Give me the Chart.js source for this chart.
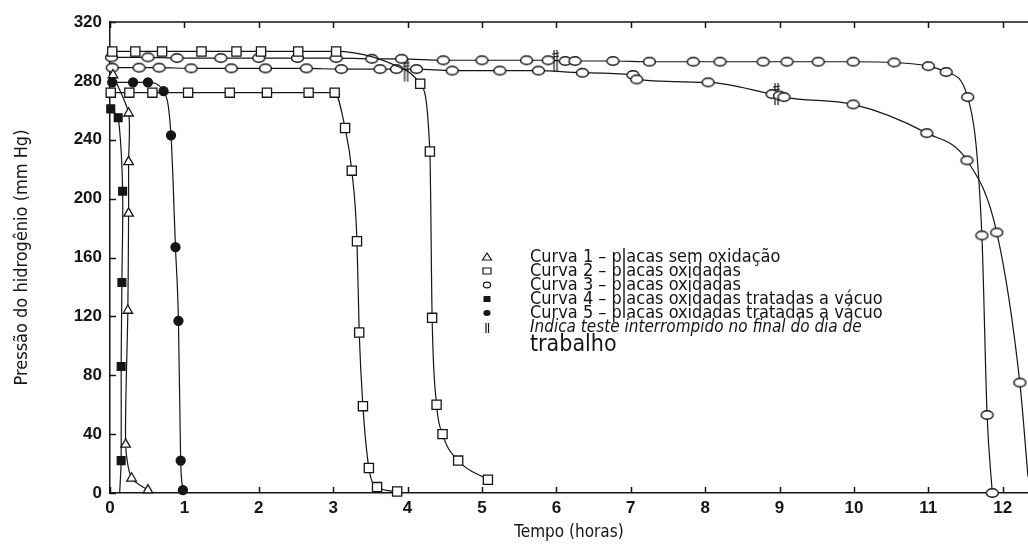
<!DOCTYPE html>
<html>
<head>
<meta charset="utf-8">
<script src="https://cdn.jsdelivr.net/npm/chart.js@4.4.1/dist/chart.umd.min.js"></script>
<style>
  html, body { margin: 0; padding: 0; background: #fff; }
  #wrap { width: 1028px; height: 546px; position: relative; }
</style>
</head>
<body>
<div id="wrap"><canvas id="pressureChart"></canvas></div>
<script>
// axis ticks
const xTickValues = [0, 1, 2, 3, 4, 5, 6, 7, 8, 9, 10, 11, 12];
const yTickValues = [0, 40, 80, 120, 160, 200, 240, 280, 320];

// curve 1 - triangles
const curve1Time = [0.04, 0.25, 0.25, 0.25, 0.24, 0.21, 0.29, 0.51];
const curve1Pressure = [284, 258, 225, 190, 124, 33, 10, 2];

// curve 2 - open squares (two runs)
const curve2aTime = [0.03, 0.34, 0.70, 1.23, 1.70, 2.03, 2.53, 3.04, 3.55, 3.95, 4.17, 4.30, 4.33, 4.39, 4.47, 4.68, 5.08];
const curve2aPressure = [300, 300, 300, 300, 300, 300, 300, 300, 296, 288, 278, 232, 119, 60, 40, 22, 9];
const curve2bTime = [0.01, 0.26, 0.57, 1.05, 1.61, 2.11, 2.67, 3.02, 3.16, 3.25, 3.32, 3.35, 3.40, 3.48, 3.59, 3.86];
const curve2bPressure = [272, 272, 272, 272, 272, 272, 272, 272, 248, 219, 171, 109, 59, 17, 4, 1];

// curve 3 - open circles (two runs)
const curve3aTime = [0.02, 0.51, 0.90, 1.49, 2.00, 2.52, 3.04, 3.52, 3.92, 4.48, 5.00, 5.60, 5.89, 6.12, 6.25, 6.76, 7.25, 7.84, 8.20, 8.78, 9.10, 9.52, 9.99, 10.54, 11.00, 11.24, 11.53, 11.72, 11.79, 11.86];
const curve3aPressure = [296, 296, 295.5, 295.5, 295.5, 295.5, 295.5, 295, 295, 294, 294, 294, 294, 293.5, 293.5, 293.5, 293, 293, 293, 293, 293, 293, 293, 292.5, 290, 286, 269, 175, 53, 0];
const curve3bTime = [0.03, 0.39, 0.66, 1.09, 1.63, 2.09, 2.64, 3.11, 3.63, 3.85, 4.12, 4.60, 5.24, 5.76, 6.35, 7.03, 7.08, 8.04, 8.90, 9.00, 9.06, 9.99, 10.98, 11.52, 11.92, 12.23, 12.34];
const curve3bPressure = [289, 289, 289, 288.5, 288.5, 288.5, 288.5, 288, 288, 288, 288, 287, 287, 287, 285.5, 284, 281, 279, 271, 270, 269, 264, 244.5, 226, 177, 75, 11];

// curve 4 - filled squares
const curve4Time = [0.01, 0.11, 0.17, 0.16, 0.15, 0.15, 0.13];
const curve4Pressure = [261, 255, 205, 143, 86, 22, 0];

// curve 5 - filled circles
const curve5Time = [0.03, 0.31, 0.51, 0.72, 0.82, 0.88, 0.92, 0.95, 0.98];
const curve5Pressure = [279, 279, 279, 273, 243, 167, 117, 22, 2];

// test interrupted at end of working day
const breakTime = [3.98, 5.99, 8.96];
const breakPressure = [287, 293.5, 271];

const legendLabels = [
  'Curva 1 – placas sem oxidação',
  'Curva 2 – placas oxidadas',
  'Curva 3 – placas oxidadas',
  'Curva 4 – placas oxidadas tratadas a vácuo',
  'Curva 5 – placas oxidadas tratadas a vácuo',
  'Indica teste interrompido no final do dia de',
  'trabalho'
];

const NARROW = "'DejaVu Sans Condensed', 'Liberation Sans Narrow', 'DejaVu Sans', sans-serif";
const INK = '#151515';

const toPoints = (t, p) => t.map((v, i) => ({ x: v, y: p[i] }));

function makeMark(w, h, draw) {
  const c = document.createElement('canvas');
  c.width = w;
  c.height = h;
  draw(c.getContext('2d'));
  return c;
}

const ellipseMark = makeMark(15, 12, g => {
  g.fillStyle = '#fff';
  g.strokeStyle = INK;
  g.lineWidth = 1.4;
  g.beginPath();
  g.ellipse(7.5, 6, 6, 4.3, 0, 0, Math.PI * 2);
  g.fill();
  g.stroke();
});

const breakMark = makeMark(9, 24, g => {
  g.strokeStyle = INK;
  g.lineWidth = 1.2;
  g.beginPath();
  g.moveTo(3, 1); g.lineTo(3, 23);
  g.moveTo(6, 1); g.lineTo(6, 23);
  g.moveTo(1, 5); g.lineTo(8, 4);
  g.moveTo(1, 8); g.lineTo(8, 7);
  g.stroke();
});

// radius per point, with some points carrying the line only
function radii(n, r, bare) {
  return Array.from({ length: n }, (_, i) => (bare.includes(i) ? 0 : r));
}

function lineSet(label, t, p, extra) {
  return Object.assign({
    label: label,
    data: toPoints(t, p),
    showLine: true,
    borderColor: INK,
    borderWidth: 1.2,
    pointBorderColor: INK,
    pointBorderWidth: 1.3,
    pointBackgroundColor: '#fff',
    clip: false
  }, extra);
}

const datasets = [
  lineSet('Curva 1', curve1Time, curve1Pressure, {
    pointStyle: 'triangle', pointRadius: 5.5, tension: 0.25
  }),
  lineSet('Curva 2a', curve2aTime, curve2aPressure, {
    pointStyle: 'rect', pointRadius: radii(curve2aTime.length, 6.5, [8, 9]),
    cubicInterpolationMode: 'monotone'
  }),
  lineSet('Curva 2b', curve2bTime, curve2bPressure, {
    pointStyle: 'rect', pointRadius: 6.5, cubicInterpolationMode: 'monotone'
  }),
  lineSet('Curva 3a', curve3aTime, curve3aPressure, {
    pointStyle: ellipseMark, cubicInterpolationMode: 'monotone'
  }),
  lineSet('Curva 3b', curve3bTime, curve3bPressure, {
    pointStyle: ellipseMark, pointRadius: radii(curve3bTime.length, 3, [curve3bTime.length - 1]),
    cubicInterpolationMode: 'monotone'
  }),
  lineSet('Curva 4', curve4Time, curve4Pressure, {
    pointStyle: 'rect', pointRadius: radii(curve4Time.length, 5.5, [curve4Time.length - 1]),
    pointBackgroundColor: INK, tension: 0.25
  }),
  lineSet('Curva 5', curve5Time, curve5Pressure, {
    pointStyle: 'circle', pointRadius: 4.5, pointBackgroundColor: INK,
    cubicInterpolationMode: 'monotone'
  }),
  {
    label: 'Interrompido',
    data: toPoints(breakTime, breakPressure),
    showLine: false,
    pointStyle: breakMark,
    pointRadius: 6,
    clip: false
  }
];

function legendSymbol(ctx, kind, x, y) {
  ctx.save();
  ctx.strokeStyle = INK;
  ctx.fillStyle = INK;
  ctx.lineWidth = 1.2;
  ctx.beginPath();
  if (kind === 0) {
    ctx.moveTo(x, y - 4); ctx.lineTo(x + 4.5, y + 3); ctx.lineTo(x - 4.5, y + 3); ctx.closePath(); ctx.stroke();
  } else if (kind === 1) {
    ctx.rect(x - 4, y - 3, 8, 6); ctx.stroke();
  } else if (kind === 2) {
    ctx.ellipse(x, y, 3.6, 2.8, 0, 0, Math.PI * 2); ctx.stroke();
  } else if (kind === 3) {
    ctx.rect(x - 3.5, y - 3, 7, 6); ctx.fill();
  } else if (kind === 4) {
    ctx.ellipse(x, y, 3.6, 3, 0, 0, Math.PI * 2); ctx.fill();
  } else {
    ctx.moveTo(x - 1, y - 5); ctx.lineTo(x - 1, y + 5);
    ctx.moveTo(x + 1.5, y - 5); ctx.lineTo(x + 1.5, y + 5);
    ctx.stroke();
  }
  ctx.restore();
}

const framePlugin = {
  id: 'frame',
  afterDraw(chart) {
    const { ctx, chartArea: a, scales } = chart;
    ctx.save();
    ctx.strokeStyle = INK;
    ctx.lineWidth = 1.5;
    ctx.beginPath();
    ctx.moveTo(a.left, a.top);
    ctx.lineTo(a.right, a.top);
    xTickValues.forEach(v => {
      const px = Math.round(scales.x.getPixelForValue(v)) + 0.5;
      ctx.moveTo(px, a.bottom); ctx.lineTo(px, a.bottom - 6);
      ctx.moveTo(px, a.top); ctx.lineTo(px, a.top + 6);
    });
    yTickValues.forEach(v => {
      const py = Math.round(scales.y.getPixelForValue(v)) + 0.5;
      ctx.moveTo(a.left, py); ctx.lineTo(a.left + 6, py);
    });
    ctx.stroke();

    // legend inside the plot
    const sx = a.left + 377;
    const tx = a.left + 420;
    const rows = [257, 271, 285, 299, 313, 328];
    ctx.fillStyle = INK;
    ctx.textBaseline = 'middle';
    rows.forEach((y, i) => {
      legendSymbol(ctx, i, sx, y);
      ctx.font = (i === 5 ? 'italic 17px ' : '18px ') + NARROW;
      ctx.fillText(legendLabels[i], tx, y);
    });
    ctx.font = '23px ' + NARROW;
    ctx.fillText(legendLabels[6], tx, 345);
    ctx.restore();
  }
};

new Chart(document.getElementById('pressureChart'), {
  type: 'scatter',
  data: { datasets: datasets },
  plugins: [framePlugin],
  options: {
    responsive: true,
    maintainAspectRatio: false,
    animation: false,
    layout: { autoPadding: false, padding: { top: 22, right: 0, left: 0, bottom: 0 } },
    plugins: { legend: { display: false }, tooltip: { enabled: false } },
    scales: {
      x: {
        type: 'linear',
        min: 0,
        max: 12.34,
        afterFit: s => { s.height = 53; s.paddingRight = 0; s.paddingLeft = 0; },
        afterBuildTicks: s => { s.ticks = xTickValues.map(v => ({ value: v })); },
        grid: { display: true, drawOnChartArea: false, drawTicks: false },
        border: { display: true, color: INK, width: 1.5 },
        ticks: {
          includeBounds: false,
          padding: 5,
          color: INK,
          font: { family: "'Liberation Sans', Arial, sans-serif", size: 17, weight: 'bold' }
        },
        title: {
          display: true,
          text: 'Tempo (horas)',
          color: INK,
          padding: { top: 0, bottom: 3 },
          font: { family: NARROW, size: 17 }
        }
      },
      y: {
        type: 'linear',
        min: 0,
        max: 320,
        afterFit: s => { s.width = 110; },
        afterBuildTicks: s => { s.ticks = yTickValues.map(v => ({ value: v })); },
        grid: { display: true, drawOnChartArea: false, drawTicks: false },
        border: { display: true, color: INK, width: 1.5 },
        ticks: {
          padding: 8,
          color: INK,
          font: { family: "'Liberation Sans', Arial, sans-serif", size: 17, weight: 'bold' }
        },
        title: {
          display: true,
          text: 'Pressão do hidrogênio (mm Hg)',
          color: INK,
          padding: { top: 12, bottom: 0 },
          font: { family: NARROW, size: 18 }
        }
      }
    }
  }
});
</script>
</body>
</html>
